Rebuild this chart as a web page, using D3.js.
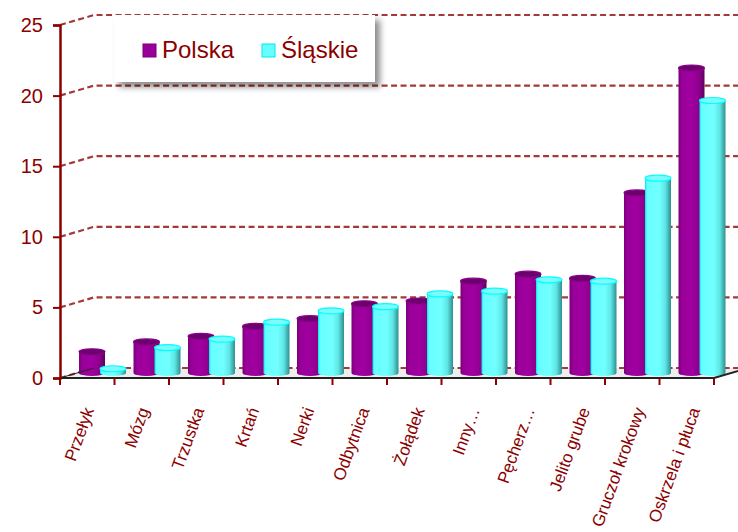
<!DOCTYPE html>
<html><head><meta charset="utf-8">
<script src="https://cdn.jsdelivr.net/npm/d3@7"></script>
<style>body{margin:0;background:#fff}svg{display:block;font-family:Arial,"Liberation Sans",sans-serif}</style>
</head><body><svg id="c" width="738" height="532"></svg>
<script>
const categories = ["Przełyk","Mózg","Trzustka","Krtań","Nerki","Odbytnica","Żołądek","Inny…","Pęcherz…","Jelito grube","Gruczoł krokowy","Oskrzela i płuca"];
const seriesNames = ["Polska","Śląskie"];
const polska  = [1.5,2.2,2.6,3.3,3.85,4.9,5.1,6.5,7.0,6.7,12.75,21.6];
const slaskie = [0.3,1.8,2.4,3.6,4.4,4.7,5.6,5.8,6.6,6.5,13.8,19.3];
const yTicks = [0,5,10,15,20,25];

const svg = d3.select("#c");
const red = "#8b0000";
const depth = {x:34, y:-10};
const x = d3.scaleBand().domain(categories).range([60,714]);
const y = d3.scaleLinear().domain([0,25]).range([378,25]);
const xs = d3.scalePoint().domain(seriesNames).range([0,21]);
const barW = 26;

const defs = svg.append("defs");
function grad(id, stops){
  const g = defs.append("linearGradient").attr("id",id).attr("x1","0").attr("x2","1").attr("y1","0").attr("y2","0");
  stops.forEach(s=>g.append("stop").attr("offset",s[0]).attr("stop-color",s[1]));
}
grad("gP",[["0%","#7a007a"],["15%","#9a009a"],["50%","#a000a0"],["80%","#8c008c"],["100%","#5c005c"]]);
grad("gC",[["0%","#00e8e8"],["8%","#66ffff"],["55%","#72ffff"],["78%","#5ee6e6"],["100%","#2f8f8f"]]);
const f = defs.append("filter").attr("id","sh").attr("x","-10%").attr("y","-10%").attr("width","130%").attr("height","140%");
f.append("feDropShadow").attr("dx",5).attr("dy",5).attr("stdDeviation",3).attr("flood-color","#000").attr("flood-opacity",0.45);

// floor
const x0 = x.range()[0], x1 = x.range()[1];
svg.append("path")
  .attr("d",`M${x0},${y(0)}L${x1},${y(0)}L${x1+depth.x},${y(0)+depth.y}L${x0+depth.x},${y(0)+depth.y}Z`)
  .attr("fill","#eeeeee");

// gridlines (back wall)
yTicks.forEach(v=>{
  svg.append("path")
    .attr("d",`M${x0},${y(v)}L${x0+depth.x},${y(v)+depth.y}L${738},${y(v)+depth.y}`)
    .attr("fill","none").attr("stroke","#9a2424").attr("stroke-opacity",0.9)
    .attr("stroke-width",2.2).attr("stroke-dasharray","6,3.5");
});

// bars (cylinders)
const fills = ["url(#gP)","url(#gC)"];
const tops = [{f:"#6c006c",s:"#8a008a"},{f:"#7dfafa",s:"#00ffff"}];
const data = [polska, slaskie];
categories.forEach((c,i)=>{
  seriesNames.forEach((s,k)=>{
    const v = data[k][i];
    const left = x(c) + 2 + xs(s) + depth.x/2;
    const base = y(0) + depth.y/2;
    const top = y(v) + depth.y/2;
    const cx = left + barW/2, rx = barW/2, ry = 3;
    const g = svg.append("g");
    g.append("path")
      .attr("d",`M${left},${top}L${left},${base}A${rx},${ry} 0 0 0 ${left+barW},${base}L${left+barW},${top}Z`)
      .attr("fill",fills[k]);
    g.append("ellipse").attr("cx",cx).attr("cy",top).attr("rx",rx).attr("ry",ry)
      .attr("fill",tops[k].f).attr("stroke",tops[k].s).attr("stroke-width",1.2);
  });
});

// front floor edge
svg.append("path")
  .attr("d",`M${x0},${y(0)}L${x1},${y(0)}L${x1+depth.x},${y(0)+depth.y}`)
  .attr("fill","none").attr("stroke","#222").attr("stroke-width",2);
svg.append("path")
  .attr("d",`M${x0},${y(0)}L${x0+depth.x},${y(0)+depth.y}`)
  .attr("fill","none").attr("stroke","#222").attr("stroke-width",1);

// y axis
const ya = svg.append("g").attr("transform",`translate(${x0},0)`)
  .call(d3.axisLeft(y).tickValues(yTicks).tickSize(7).tickPadding(10));
ya.select(".domain").attr("stroke",red).attr("stroke-width",2.5);
ya.selectAll(".tick line").attr("stroke",red).attr("stroke-width",2);
ya.selectAll(".tick text").attr("fill",red).attr("font-size",20).attr("font-family","Arial,'Liberation Sans',sans-serif");

// x axis ticks
const xa = svg.append("g").attr("transform",`translate(0,${y(0)})`)
  .call(d3.axisBottom(x).tickSizeOuter(0).tickSize(7).tickFormat(""));
xa.select(".domain").remove();
xa.selectAll(".tick").attr("transform",d=>`translate(${x(d)},0)`);
svg.append("line").attr("x1",x1).attr("x2",x1).attr("y1",y(0)).attr("y2",y(0)+7).attr("stroke",red).attr("stroke-width",2);
xa.selectAll(".tick line").attr("stroke",red).attr("stroke-width",2);

// x labels
svg.append("g").selectAll("text").data(categories).join("text")
  .attr("transform",(d,i)=>`translate(${x(d)+x.bandwidth()/2+7+i*0.6},${y(0)+32}) rotate(-70)`)
  .attr("text-anchor","end").attr("fill",red).attr("font-size",17)
  .text(d=>d);

// legend
const lg = svg.append("g");
lg.append("rect").attr("x",114).attr("y",15).attr("width",261).attr("height",67)
  .attr("fill","#fff").attr("filter","url(#sh)");
const lcol = ["#990099","#66ffff"], lstroke = ["#7a007a","#00e8e8"];
const lx = [143,262];
seriesNames.forEach((s,k)=>{
  lg.append("rect").attr("x",lx[k]).attr("y",44).attr("width",13).attr("height",13)
    .attr("fill",lcol[k]).attr("stroke",lstroke[k]).attr("stroke-width",1);
  lg.append("text").attr("x",lx[k]+19).attr("y",58).attr("fill",red).attr("font-size",24).text(s);
});
</script></body></html>
